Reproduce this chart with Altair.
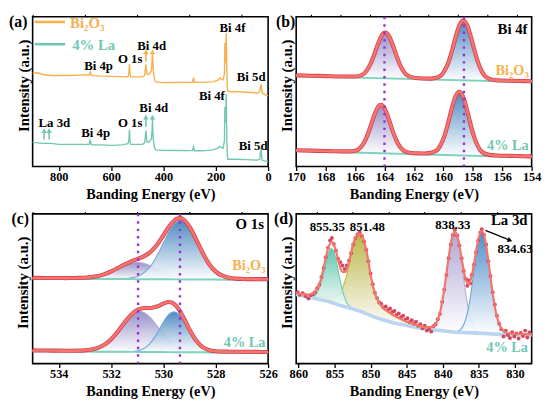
import altair as alt
import pandas as pd

FONT = "Liberation Serif"
ORANGE = "#F8B04C"
TEAL = "#70C8B4"
ENV = "#F4766A"
ENV_DARK = "#D43E58"
BGLINE = "#7DD3BE"
VLINE = "#9B2FD6"
PURPLE = "#8C86C2"
BLUE = "#3B7EBA"
D_TEAL = "#4FC0A5"
D_OLIVE = "#B4B03A"
D_LAV = "#A59DD0"
D_BLUE = "#3C82C6"
D_BG = "#BBD5EE"

W, H = 239, 152
Y_TITLE = "Intensity (a.u.)"
X_TITLE = "Banding Energy (eV)"

# ---------------- (a) survey spectra ----------------
A_E = [900, 880, 860, 830, 800, 760, 720, 690, 684, 680, 676, 670, 640, 600, 560,
       540, 535, 532, 530, 528, 525, 500, 480, 472, 467, 463, 456, 446, 442, 438,
       434, 430, 400, 350, 300, 289, 285, 281, 250, 210, 190, 185, 180, 172, 167,
       165, 163, 160, 158, 156, 154, 150, 120, 80, 40, 32, 27, 23, 10, 0]
A_BI2O3 = [94.5, 95.2, 93.5, 92.5, 92.5, 92.5, 92.8, 93.0, 93.0, 96.0, 92.8, 92.3, 91.8, 91.5, 91.3,
           91.0, 91.5, 95.0, 104.2, 95.0, 91.0, 91.0, 91.0, 92.5, 103.5, 94.0, 93.5, 97.0, 111.8, 96.0,
           88.0, 86.0, 85.2, 85.3, 85.5, 85.5, 90.2, 85.5, 85.5, 86.0, 88.0, 90.0, 89.0, 88.0, 94.0,
           125.5, 105.0, 135.2, 100.0, 80.0, 76.5, 76.2, 76.0, 75.5, 74.5, 76.5, 83.5, 75.0, 72.5, 71.8]
A_LA = [24.5, 24.0, 23.5, 23.5, 22.5, 22.5, 22.5, 22.5, 22.5, 26.5, 22.5, 22.0, 22.0, 21.5, 22.0,
        23.0, 23.5, 27.0, 37.5, 26.0, 22.5, 22.5, 22.5, 24.0, 36.5, 25.0, 24.5, 28.0, 42.5, 26.0,
        19.0, 17.0, 16.5, 16.3, 16.2, 16.5, 20.0, 16.0, 16.0, 17.0, 19.0, 20.5, 19.5, 18.5, 26.0,
        60.5, 45.0, 73.5, 30.0, 13.0, 7.5, 7.5, 7.5, 7.0, 6.5, 7.5, 18.5, 6.5, 5.5, 5.2]
A_TICKS = [800, 600, 400, 200, 0]
A_MINOR = [900, 700, 500, 300, 100]
A_LABEL_T = ["Bi 4f", "Bi 5d", "Bi 4d", "O 1s", "Bi 4p", "Bi 4f", "Bi 4d", "O 1s", "Bi 4p", "La 3d", "Bi 5d"]
A_LABEL_E = [136, 65, 445, 527, 648, 215, 437, 527, 659, 817, 57]
A_LABEL_I = [140.5, 90.5, 122.5, 109.5, 102.5, 71.5, 59.5, 44.5, 34.5, 44.5, 20.5]
A_ARROW_E = [856, 837, 467, 442, 467, 442]
A_ARROW_BASE = [27.5, 27.5, 40.2, 40.2, 106.5, 106.5]
A_ARROW_TIP = [36.5, 36.5, 50.2, 50.2, 116.5, 116.5]
A_ARROW_C = [TEAL, TEAL, TEAL, TEAL, ORANGE, ORANGE]
LEG_T = ["Bi₂O₃", "4% La"]
LEG_C = [ORANGE, TEAL]
LEG_LINE_E = [892, 892]
LEG_LINE_E2 = [776, 776]
LEG_LINE_I = [146.8, 124.2]
LEG_TEXT_E = [757, 749]
LEG_TEXT_I = [146.0, 123.5]

# ---------------- (b) Bi 4f ----------------
B_TICKS = [170, 168, 166, 164, 162, 160, 158, 156, 154]
B_MINOR = [169, 167, 165, 163, 161, 159, 157, 155]
B_VLINES = [164.0, 158.6]
B_BG_E = [170, 154]
B_BG_UP = [91.8, 85.8]
B_BG_LO = [15.8, 9.5]
B_UP_E = [170, 169, 168, 167, 166.5, 166.0, 165.5, 165.2, 164.95, 164.7, 164.45, 164.2, 163.95, 163.7,
          163.45, 163.2, 162.95, 162.7, 162.4, 161.9, 161.4, 160.9, 160.7, 160.2, 159.9, 159.64, 159.39,
          159.14, 158.89, 158.64, 158.39, 158.14, 157.89, 157.64, 157.39, 157.1, 156.6, 156.1, 155.5,
          155, 154.5, 154]
B_UP_ENV = [92.6, 92.2, 91.8, 91.4, 91.4, 91.4, 93.2, 97.6, 104.2, 113.6, 124.2, 132.8, 136.0, 132.7,
            123.9, 113.1, 103.5, 96.7, 92.1, 89.9, 89.4, 89.3, 89.5, 91.9, 97.7, 106.4, 118.8,
            132.7, 144.0, 148.3, 143.8, 132.3, 118.2, 105.6, 96.7, 90.7, 87.9, 87.4, 87.1,
            86.9, 86.8, 86.6]
B_LO_E = [170, 169, 168, 167.5, 167, 166.29, 165.79, 165.49, 165.24, 164.99, 164.74, 164.49, 164.24,
          163.99, 163.74, 163.49, 163.24, 162.99, 162.69, 162.19, 161.7, 161.3, 160.98, 160.48, 160.18,
          159.92, 159.67, 159.42, 159.17, 158.92, 158.67, 158.42, 158.17, 157.92, 157.67, 157.38,
          156.88, 156.4, 155.5, 155, 154.5, 154]
B_LO_ENV = [16.6, 16.2, 15.8, 15.6, 15.4, 15.4, 17.3, 22.0, 28.9, 38.9, 50.1, 59.2, 62.6,
            59.0, 49.7, 38.3, 28.1, 21.0, 16.1, 13.8, 13.4, 13.3, 13.6, 16.0, 22.2,
            31.4, 44.7, 59.4, 71.4, 76.0, 71.2, 59.0, 44.1, 30.6, 21.2, 14.8,
            11.9, 11.3, 10.9, 10.7, 10.5, 10.3]
B_UP_C1_E = [166.0, 165.5, 165.2, 164.95, 164.7, 164.45, 164.2, 163.95, 163.7, 163.45, 163.2, 162.95, 162.7, 162.4, 161.9]
B_UP_C1_BG = [90.3, 90.1, 90.0, 89.9, 89.8, 89.7, 89.6, 89.5, 89.5, 89.4, 89.3, 89.2, 89.1, 89.0, 88.8]
B_UP_C1 = [0.3, 2.3, 6.8, 13.5, 23.0, 33.7, 42.4, 45.7, 42.4, 33.7, 23.0, 13.5, 6.8, 2.3, 0.3]
B_UP_C2_E = [160.7, 160.2, 159.9, 159.64, 159.39, 159.14, 158.89, 158.64, 158.39, 158.14, 157.89, 157.64, 157.39, 157.1, 156.6]
B_UP_C2_BG = [88.3, 88.1, 88.0, 87.9, 87.8, 87.7, 87.6, 87.5, 87.4, 87.3, 87.2, 87.1, 87.0, 86.9, 86.7]
B_UP_C2 = [0.4, 3.0, 8.9, 17.7, 30.2, 44.2, 55.6, 60.0, 55.6, 44.2, 30.2, 17.7, 8.9, 3.0, 0.4]
B_LO_C1_E = [166.29, 165.79, 165.49, 165.24, 164.99, 164.74, 164.49, 164.24, 163.99, 163.74, 163.49, 163.24, 162.99, 162.69, 162.19]
B_LO_C1_BG = [14.3, 14.1, 14.0, 13.9, 13.8, 13.7, 13.6, 13.5, 13.4, 13.3, 13.2, 13.1, 13.0, 12.9, 12.7]
B_LO_C1 = [0.3, 2.4, 7.2, 14.2, 24.3, 35.6, 44.8, 48.3, 44.8, 35.6, 24.3, 14.2, 7.2, 2.4, 0.3]
B_LO_C2_E = [160.98, 160.48, 160.18, 159.92, 159.67, 159.42, 159.17, 158.92, 158.67, 158.42, 158.17, 157.92, 157.67, 157.38, 156.88]
B_LO_C2_BG = [12.25, 12.05, 11.9, 11.8, 11.7, 11.6, 11.5, 11.4, 11.3, 11.2, 11.1, 11.0, 10.9, 10.8, 10.6]
B_LO_C2 = [0.5, 3.2, 9.5, 18.8, 32.2, 47.0, 59.1, 63.8, 59.1, 47.0, 32.2, 18.8, 9.5, 3.2, 0.5]

# ---------------- (c) O 1s ----------------
C_TICKS = [534, 532, 530, 528, 526]
C_MINOR = [535, 533, 531, 529, 527]
C_VLINES = [530.97, 529.37]
C_UP_E = [535.0, 534.75, 534.5, 534.25, 534.0, 533.75, 533.5, 533.25, 533.0, 532.75, 532.5, 532.25,
          532.0, 531.75, 531.5, 531.25, 531.0, 530.75, 530.5, 530.25, 530.0, 529.75, 529.5, 529.35,
          529.25, 529.0, 528.75, 528.5, 528.25, 528.0, 527.75, 527.5, 527.25, 527.0, 526.75, 526.5,
          526.25, 526.0]
C_UP_BG = [86.3, 86.26, 86.23, 86.19, 86.16, 86.12, 86.08, 86.05, 86.01, 85.98, 85.94, 85.9,
           85.87, 85.83, 85.8, 85.76, 85.72, 85.69, 85.65, 85.62, 85.58, 85.54, 85.51, 85.49,
           85.47, 85.44, 85.4, 85.36, 85.33, 85.29, 85.26, 85.22, 85.18, 85.15, 85.11, 85.08,
           85.04, 85.0]
C_UP_A = [0, 0, 0, 0, 0, 0, 0.1, 0.2, 0.5, 1.1, 2.3, 4.2, 7.0, 10.3, 13.6, 16.1, 17.0, 16.1, 13.6,
          10.3, 7.0, 4.2, 2.3, 1.5, 1.1, 0.5, 0.2, 0.1, 0, 0, 0, 0, 0, 0, 0, 0, 0, 0]
C_UP_B = [0, 0, 0, 0, 0, 0, 0, 0, 0, 0, 0, 0, 0, 0.1, 0.3, 1.0, 2.7, 6.4, 13.1, 23.7, 37.0, 49.9,
          58.4, 60.0, 59.3, 52.1, 39.7, 26.2, 14.9, 7.4, 3.2, 1.2, 0.4, 0.1, 0, 0, 0, 0]
C_UP_ENV = [87.0, 87.0, 86.9, 86.9, 86.9, 86.8, 86.9, 87.0, 87.2, 87.8, 88.9, 90.8, 93.6, 96.9,
            100.4, 103.6, 106.1, 108.9, 113.1, 120.3, 130.3, 140.3, 146.9, 147.7, 146.6, 138.8,
            126.0, 112.4, 100.9, 93.4, 89.2, 87.1, 86.3, 86.0, 85.8, 85.8, 85.7, 85.7]
C_LO_E = [535, 534.5, 534, 533.5, 533.25, 533, 532.75, 532.5, 532.25, 532, 531.75, 531.5, 531.25,
          531.1, 530.9, 530.7, 530.5, 530.25, 530, 529.8, 529.6, 529.4, 529.2, 529, 528.75, 528.5,
          528.25, 528, 527.75, 527.5, 527, 526.5, 526]
C_LO_BG = [12.6, 12.51, 12.42, 12.33, 12.29, 12.24, 12.2, 12.16, 12.11, 12.07, 12.02, 11.98, 11.93,
           11.91, 11.87, 11.83, 11.8, 11.75, 11.71, 11.67, 11.64, 11.6, 11.57, 11.53, 11.49, 11.44,
           11.4, 11.35, 11.31, 11.27, 11.18, 11.09, 11.0]
C_LO_A = [0, 0, 0, 0, 0.1, 0.5, 1.3, 3.0, 6.4, 11.9, 19.6, 28.4, 36.2, 39.4, 41.0, 39.4, 34.8, 26.6,
          17.9, 11.9, 7.3, 4.1, 2.1, 1.0, 0.4, 0.1, 0, 0, 0, 0, 0, 0, 0]
C_LO_B = [0, 0, 0, 0, 0, 0, 0, 0, 0, 0, 0, 0, 0.3, 0.7, 1.8, 4.4, 9.1, 18.7, 30.5, 38.1, 41.0, 38.1,
          30.5, 21.1, 10.7, 4.4, 1.4, 0.4, 0.1, 0, 0, 0, 0]
C_LO_ENV = [13.4, 13.3, 13.2, 13.1, 13.2, 13.5, 14.3, 16.0, 19.3, 24.8, 32.4, 41.2, 49.2, 52.8, 55.5,
            56.4, 56.5, 57.9, 60.9, 62.5, 60.7, 54.6, 45.0, 34.4, 23.4, 16.7, 13.6, 12.6, 12.2, 12.1,
            12.0, 11.9, 11.8]

# ---------------- (d) La 3d ----------------
D_TICKS = [860, 855, 850, 845, 840, 835, 830]
D_MINOR = [857.5, 852.5, 847.5, 842.5, 837.5, 832.5]
D_BG_E = [860.3, 858.0, 856.1, 853.9, 851.6, 849.3, 847.0, 844.8, 842.5, 840.2, 837.9, 835.7, 833.4, 827.7]
D_BG_I = [70.2, 66.8, 63.5, 58.5, 53.5, 46.8, 41.8, 38.5, 35.2, 33.5, 31.8, 31.2, 30.2, 29.0]
D_ENV_E = [860.3, 859.5, 858.5, 857.9, 857.4, 856.9, 856.4, 855.9, 855.4, 854.9, 854.4, 853.9, 853.5,
           853.0, 852.5, 852.0, 851.5, 851.0, 850.5, 850.0, 849.5, 849.0, 848.5, 847.5, 846.5, 845.5,
           844.5, 843.5, 842.5, 841.5, 840.8, 840.3, 839.8, 839.3, 838.8, 838.33, 837.8, 837.3, 836.8,
           836.5, 836.1, 835.6, 835.1, 834.6, 834.1, 833.6, 833.1, 832.6, 832.1, 831.6, 831.0, 830.0,
           829.0, 827.7]
D_ENV_I = [71.5, 70.6, 70.2, 71.4, 75.4, 85.0, 100.5, 116.5, 123.5, 116.9, 102.1, 93.0, 93.1,
           102.5, 119.1, 129.3, 132.0, 126.7, 111.9, 90.2, 73.9, 64.2, 58.4, 52.3, 47.8, 44.3,
           41.2, 39.0, 36.8, 37.3, 42.9, 54.7, 75.3, 102.2, 125.5, 134.2, 124.0, 102.6, 84.6,
           80.7, 85.8, 104.8, 125.9, 134.8, 124.2, 99.3, 71.6, 50.6, 38.5, 33.1, 31.0, 30.2,
           30.0, 29.8]
D_C1_E = [858.4, 857.9, 857.4, 856.9, 856.65, 856.4, 856.15, 855.9, 855.65, 855.4, 855.15, 854.9,
          854.65, 854.4, 854.15, 853.9, 853.4, 852.9, 852.4]
D_C1_BG = [67.4, 66.6, 65.8, 64.9, 64.5, 64.0, 63.6, 63.0, 62.5, 61.9, 61.4, 60.8, 60.3, 59.6, 59.1,
           58.5, 57.4, 56.3, 55.2]
D_C1 = [0.4, 1.7, 6.0, 15.8, 23.2, 31.6, 40.3, 47.9, 53.1, 55.0, 53.1, 47.9, 40.3, 31.6, 23.2, 15.8,
        6.0, 1.7, 0.4]
D_C2_E = [859.5, 858.5, 857.5, 856.5, 855.5, 855.0, 854.5, 854.0, 853.5, 853.0, 852.5, 852.0, 851.5,
          851.0, 850.5, 850.0, 849.5, 849.0, 848.5, 847.5, 846.5, 845.5, 844.5, 843.5, 842.5, 841.5]
D_C2_BG = [69.0, 67.5, 66.0, 64.2, 62.1, 61.0, 59.9, 58.7, 57.6, 56.5, 55.4, 54.4, 53.2, 51.8, 50.3,
           48.8, 47.4, 46.2, 45.1, 42.9, 41.1, 39.6, 38.1, 36.6, 35.2, 34.5]
D_C2 = [0.8, 1.6, 2.7, 3.9, 5.5, 7.0, 9.4, 15.6, 27.3, 42.9, 62.4, 74.1, 78.0, 74.1, 60.8, 40.6, 25.7,
        17.2, 12.5, 8.6, 5.9, 3.9, 2.3, 1.6, 0.8, 0.4]
D_C3_E = [841.83, 841.33, 840.83, 840.33, 840.08, 839.83, 839.58, 839.33, 839.08, 838.83, 838.58,
          838.33, 838.08, 837.83, 837.58, 837.33, 837.08, 836.83, 836.58, 836.33, 835.83, 835.33, 834.83]
D_C3_BG = [34.7, 34.3, 34.0, 33.6, 33.4, 33.2, 33.0, 32.9, 32.7, 32.5, 32.3, 32.1, 31.9, 31.8, 31.7,
           31.6, 31.6, 31.5, 31.4, 31.4, 31.2, 31.0, 30.8]
D_C3 = [0.6, 2.4, 7.7, 19.4, 28.5, 39.9, 52.9, 66.9, 80.0, 91.1, 98.4, 101.0, 98.4, 91.1, 80.0, 66.9,
        52.9, 39.9, 28.5, 19.4, 7.7, 2.4, 0.6]
D_C4_E = [838.1, 837.6, 837.1, 836.6, 836.35, 836.1, 835.85, 835.6, 835.35, 835.1, 834.85, 834.6,
          834.35, 834.1, 833.85, 833.6, 833.35, 833.1, 832.85, 832.6, 832.1, 831.6, 831.1]
D_C4_BG = [31.9, 31.7, 31.6, 31.4, 31.4, 31.3, 31.2, 31.2, 31.0, 30.9, 30.8, 30.7, 30.6, 30.5, 30.4,
           30.3, 30.2, 30.1, 30.1, 30.0, 29.9, 29.8, 29.7]
D_C4 = [0.6, 2.5, 7.8, 19.8, 29.0, 40.7, 54.0, 68.2, 81.6, 92.9, 100.3, 103.0, 100.3, 92.9, 81.6,
        68.2, 54.0, 40.7, 29.0, 19.8, 7.8, 2.5, 0.6]
D_SCAT_E = [860.1, 859.8, 859.4, 859.0, 858.6, 858.3, 858.0, 857.7, 857.4, 857.1, 856.8, 856.5, 856.2,
            855.9, 855.6, 855.35, 855.1, 854.8, 854.5, 854.2, 853.9, 853.6, 853.3, 853.0, 852.7, 852.4,
            852.1, 851.8, 851.5, 851.2, 850.9, 850.6, 850.3, 850.0, 849.7, 849.4, 849.1, 848.8, 848.5,
            848.2, 847.9, 847.6, 847.3, 847.0, 846.7, 846.4, 846.1, 845.8, 845.5, 845.2, 844.9, 844.6,
            844.3, 844.0, 843.7, 843.4, 843.1, 842.8, 842.5, 842.2, 841.9, 841.6, 841.3, 841.0, 840.7,
            840.4, 840.1, 839.8, 839.5, 839.2, 838.9, 838.6, 838.33, 838.0, 837.7, 837.4, 837.1, 836.8,
            836.6, 836.4, 836.2, 836.0, 835.7, 835.4, 835.1, 834.8, 834.6, 834.3, 834.0, 833.7, 833.4,
            833.1, 832.8, 832.5, 832.2, 831.9, 831.6, 831.3, 831.0, 830.7, 830.4, 830.1, 829.8, 829.5,
            829.2, 828.9, 828.6, 828.3, 828.0]
D_SCAT_I = [72.5, 70.0, 71.5, 68.5, 66.0, 69.5, 70.5, 72.5, 76.5, 80.0, 88.0, 97.0, 108.0,
            117.5, 125.0, 127.5, 121.5, 114.5, 106.5, 103.0, 99.5, 96.0, 99.5, 104.5, 112.0, 121.0,
            127.5, 131.0, 133.0, 129.5, 124.0, 115.5, 104.0, 91.5, 80.5, 72.0, 66.5, 62.0, 60.5,
            57.0, 58.0, 54.5, 56.0, 52.5, 53.5, 49.5, 51.0, 47.0, 48.5, 44.5, 46.0, 42.0,
            44.0, 40.5, 42.5, 38.5, 40.0, 36.0, 38.5, 33.5, 35.5, 32.5, 38.0, 40.0, 45.0,
            50.5, 62.5, 75.0, 90.0, 107.0, 121.0, 130.5, 136.0, 130.0, 120.0, 107.0, 94.0, 86.0,
            79.0, 84.5, 81.5, 90.0, 100.5, 113.0, 125.0, 133.0, 136.5, 130.5, 121.0, 104.0, 89.0,
            72.5, 60.0, 48.5, 40.5, 35.0, 27.5, 33.5, 29.0, 26.0, 32.0, 27.5, 30.5, 25.5,
            31.0, 28.0, 33.5, 26.5, 31.5]
D_LABEL_T = ["855.35", "851.48", "838.33", "834.63"]
D_LABEL_E = [856.0, 850.45, 838.6, 830.0]
D_LABEL_I = [139.0, 139.0, 141.0, 116.0]


# ---------------- helpers ----------------
YS = alt.Scale(domain=[0, 152], nice=False, zero=False)


def xs(dom):
    return alt.Scale(domain=dom, nice=False, zero=False)


def grad(c):
    return alt.Gradient(gradient="linear",
                        stops=[alt.GradientStop(color=c, offset=0),
                               alt.GradientStop(color="#ffffff", offset=1)],
                        x1=0, x2=0, y1=0, y2=1)


def X(sc, f="E"):
    return alt.X(f"{f}:Q", scale=sc, axis=None)


def Y(f="I"):
    return alt.Y(f"{f}:Q", scale=YS, axis=None)


def axis_layers(dom, major, minor):
    df = pd.DataFrame({"E": dom, "I": [0, 0]})
    sc = xs(dom)
    main = alt.Chart(df).mark_point(opacity=0).encode(
        x=alt.X("E:Q", scale=sc, axis=alt.Axis(
            values=major, title=X_TITLE, format="d", domain=False, grid=False,
            ticks=True, tickSize=4, tickWidth=1.3, tickColor="black",
            labelFont=FONT, labelFontSize=12.5, labelFontWeight="bold", labelColor="black",
            labelPadding=0, labelFlush=False, labelOverlap=False,
            titleFont=FONT, titleFontSize=14.5, titleFontWeight="bold", titleColor="black",
            titlePadding=5)),
        y=Y())
    mnr = alt.Chart(df).mark_point(opacity=0).encode(
        x=alt.X("E:Q", scale=sc, axis=alt.Axis(
            values=minor, title=None, labels=False, domain=False, grid=False,
            ticks=True, tickSize=2.5, tickWidth=1.1, tickColor="black")),
        y=Y())
    return [main, mnr]


def text_layer(df, sc, size, align="center", weight="bold", angle=0):
    kw = dict(font=FONT, fontWeight=weight, fontSize=size, align=align, baseline="middle")
    if angle:
        kw["angle"] = angle
    return alt.Chart(df).mark_text(**kw).encode(
        x=X(sc), y=Y(), text="t:N", color=alt.Color("c:N", scale=None))


def panel_label(sc, t, e):
    return text_layer(pd.DataFrame({"E": [e], "I": [147.0], "t": [t], "c": ["black"]}), sc, 16)


def y_title(sc, e):
    return text_layer(pd.DataFrame({"E": [e], "I": [82.0], "t": [Y_TITLE], "c": ["black"]}),
                      sc, 15, angle=270)


def comp_layers(sc, E, bg, net, color, line_color):
    df = pd.DataFrame({"E": E, "bg": bg, "net": net})
    df["top"] = df["bg"] + df["net"]
    area = alt.Chart(df).mark_area(color=grad(color), opacity=0.9, interpolate="monotone").encode(
        x=X(sc), y=Y("top"), y2=alt.Y2("bg:Q"))
    line = alt.Chart(df).mark_line(color=line_color, strokeWidth=1.1, interpolate="monotone").encode(
        x=X(sc), y=Y("top"))
    return [area, line]


def env_layers(sc, E, I):
    df = pd.DataFrame({"E": E, "I": I})
    dark = alt.Chart(df).mark_line(color=ENV_DARK, strokeWidth=4.2, interpolate="monotone").encode(
        x=X(sc), y=Y())
    light = alt.Chart(df).mark_line(color=ENV, strokeWidth=2.6, interpolate="monotone").encode(
        x=X(sc), y=Y())
    return [dark, light]


def simple_line(sc, E, I, color, width, interp="linear"):
    df = pd.DataFrame({"E": E, "I": I})
    return alt.Chart(df).mark_line(color=color, strokeWidth=width, interpolate=interp).encode(
        x=X(sc), y=Y())


def vlines(sc, E):
    df = pd.DataFrame({"E": E})
    return alt.Chart(df).mark_rule(color=VLINE, strokeWidth=2.4, strokeDash=[2.5, 5]).encode(x=X(sc))


# ---------------- panel (a) ----------------
A_DOM = [900, 0]
sa = xs(A_DOM)
a_layers = axis_layers(A_DOM, A_TICKS, A_MINOR)
a_layers.append(simple_line(sa, A_E, A_BI2O3, ORANGE, 1.4))
a_layers.append(simple_line(sa, A_E, A_LA, TEAL, 1.4))
arr = pd.DataFrame({"E": A_ARROW_E, "b": A_ARROW_BASE, "t": A_ARROW_TIP, "c": A_ARROW_C})
a_layers.append(alt.Chart(arr).mark_rule(strokeWidth=1.6).encode(
    x=X(sa), y=Y("b"), y2=alt.Y2("t:Q"), color=alt.Color("c:N", scale=None)))
a_layers.append(alt.Chart(arr).mark_point(shape="triangle-up", filled=True, size=30, opacity=1).encode(
    x=X(sa), y=Y("t"), color=alt.Color("c:N", scale=None)))
leg = pd.DataFrame({"E": LEG_LINE_E, "E2": LEG_LINE_E2, "I": LEG_LINE_I, "c": LEG_C})
a_layers.append(alt.Chart(leg).mark_rule(strokeWidth=2.6).encode(
    x=X(sa), x2=alt.X2("E2:Q"), y=Y(), color=alt.Color("c:N", scale=None)))
a_layers.append(text_layer(pd.DataFrame({"E": LEG_TEXT_E, "I": LEG_TEXT_I, "t": LEG_T, "c": LEG_C}),
                           sa, 15, align="left"))
a_layers.append(text_layer(pd.DataFrame({"E": A_LABEL_E, "I": A_LABEL_I, "t": A_LABEL_T,
                                         "c": ["black"] * len(A_LABEL_T)}), sa, 13))
a_layers.append(panel_label(sa, "(a)", 955))
a_layers.append(y_title(sa, 933.9))
panel_a = alt.layer(*a_layers).resolve_axis(x="independent").properties(width=W, height=H)

# ---------------- panel (b) ----------------
B_DOM = [170, 154]
sb = xs(B_DOM)
b_layers = axis_layers(B_DOM, B_TICKS, B_MINOR)
b_layers += comp_layers(sb, B_UP_C1_E, B_UP_C1_BG, B_UP_C1, PURPLE, "#A9A4D6")
b_layers += comp_layers(sb, B_UP_C2_E, B_UP_C2_BG, B_UP_C2, BLUE, "#6FA7D8")
b_layers += comp_layers(sb, B_LO_C1_E, B_LO_C1_BG, B_LO_C1, PURPLE, "#A9A4D6")
b_layers += comp_layers(sb, B_LO_C2_E, B_LO_C2_BG, B_LO_C2, BLUE, "#6FA7D8")
b_layers.append(simple_line(sb, B_BG_E, B_BG_UP, BGLINE, 2))
b_layers.append(simple_line(sb, B_BG_E, B_BG_LO, BGLINE, 2))
b_layers += env_layers(sb, B_UP_E, B_UP_ENV)
b_layers += env_layers(sb, B_LO_E, B_LO_ENV)
b_layers.append(vlines(sb, B_VLINES))
b_layers.append(text_layer(pd.DataFrame({"E": [154.28], "I": [139.5], "t": ["Bi 4f"], "c": ["black"]}),
                           sb, 15, align="right"))
b_layers.append(text_layer(pd.DataFrame({"E": [154.2, 154.2], "I": [96.5, 21.0],
                                         "t": ["Bi₂O₃", "4% La"], "c": [ORANGE, TEAL]}),
                           sb, 14.5, align="right"))
b_layers.append(panel_label(sb, "(b)", 170.72))
b_layers.append(y_title(sb, 170.64))
panel_b = alt.layer(*b_layers).resolve_axis(x="independent").properties(width=W, height=H)

# ---------------- panel (c) ----------------
C_DOM = [535, 526]
sc_ = xs(C_DOM)
c_layers = axis_layers(C_DOM, C_TICKS, C_MINOR)
c_layers += comp_layers(sc_, C_UP_E, C_UP_BG, C_UP_A, PURPLE, "#B0ABDA")
c_layers += comp_layers(sc_, C_UP_E, C_UP_BG, C_UP_B, BLUE, "#6FA7D8")
c_layers += comp_layers(sc_, C_LO_E, C_LO_BG, C_LO_A, PURPLE, "#B0ABDA")
c_layers += comp_layers(sc_, C_LO_E, C_LO_BG, C_LO_B, BLUE, "#6FA7D8")
c_layers.append(simple_line(sc_, C_UP_E, C_UP_BG, BGLINE, 2))
c_layers.append(simple_line(sc_, C_LO_E, C_LO_BG, BGLINE, 2))
c_layers += env_layers(sc_, C_UP_E, C_UP_ENV)
c_layers += env_layers(sc_, C_LO_E, C_LO_ENV)
c_layers.append(vlines(sc_, C_VLINES))
c_layers.append(text_layer(pd.DataFrame({"E": [526.16], "I": [141.8], "t": ["O 1s"], "c": ["black"]}),
                           sc_, 15, align="right"))
c_layers.append(text_layer(pd.DataFrame({"E": [526.1, 526.1], "I": [99.5, 21.0],
                                         "t": ["Bi₂O₃", "4% La"], "c": [ORANGE, TEAL]}),
                           sc_, 14.5, align="right"))
c_layers.append(panel_label(sc_, "(c)", 535.47))
c_layers.append(y_title(sc_, 535.36))
panel_c = alt.layer(*c_layers).resolve_axis(x="independent").properties(width=W, height=H)

# ---------------- panel (d) ----------------
D_DOM = [860.3, 827.7]
sd = xs(D_DOM)
d_layers = axis_layers(D_DOM, D_TICKS, D_MINOR)
d_layers += comp_layers(sd, D_C2_E, D_C2_BG, D_C2, D_OLIVE, "#C2BE3E")
d_layers += comp_layers(sd, D_C1_E, D_C1_BG, D_C1, D_TEAL, "#6CCDB6")
d_layers += comp_layers(sd, D_C3_E, D_C3_BG, D_C3, D_LAV, "#B4AEDB")
d_layers += comp_layers(sd, D_C4_E, D_C4_BG, D_C4, D_BLUE, "#6EA6DA")
d_layers.append(simple_line(sd, D_BG_E, D_BG_I, D_BG, 3.6, "monotone"))
scat = pd.DataFrame({"E": D_SCAT_E, "I": D_SCAT_I})
d_layers.append(alt.Chart(scat).mark_circle(color=ENV_DARK, size=16, opacity=0.95).encode(x=X(sd), y=Y()))
d_layers.append(simple_line(sd, D_ENV_E, D_ENV_I, ENV, 2.2, "monotone"))
d_layers.append(text_layer(pd.DataFrame({"E": D_LABEL_E, "I": D_LABEL_I, "t": D_LABEL_T,
                                         "c": ["black"] * 4}), sd, 13))
d_layers.append(text_layer(pd.DataFrame({"E": [830.8], "I": [145.5], "t": ["La 3d"], "c": ["black"]}),
                           sd, 15))
d_layers.append(text_layer(pd.DataFrame({"E": [831.1], "I": [15.5], "t": ["4% La"], "c": [TEAL]}),
                           sd, 14.5))
darr = pd.DataFrame({"E": [834.1], "E2": [830.9], "I": [135.2], "I2": [125.8]})
d_layers.append(alt.Chart(darr).mark_rule(color="black", strokeWidth=1.3).encode(
    x=X(sd), x2=alt.X2("E2:Q"), y=Y(), y2=alt.Y2("I2:Q")))
d_layers.append(alt.Chart(pd.DataFrame({"E": [830.7], "I": [125.2]})).mark_point(
    shape="triangle-right", filled=True, size=30, angle=22, color="black", opacity=1).encode(
    x=X(sd), y=Y()))
d_layers.append(panel_label(sd, "(d)", 862.05))
d_layers.append(y_title(sd, 861.6))
panel_d = alt.layer(*d_layers).resolve_axis(x="independent").properties(width=W, height=H)

chart = alt.concat(panel_a, panel_b, panel_c, panel_d, columns=2,
                   spacing={"row": 48, "column": 28.5}, bounds="flush").properties(
    padding={"left": 0, "top": 0, "right": 0, "bottom": 0},
    background="white",
).configure_view(stroke="black", strokeWidth=1.6)

chart.save("out.html", embed_options={"renderer": "svg", "actions": False})
